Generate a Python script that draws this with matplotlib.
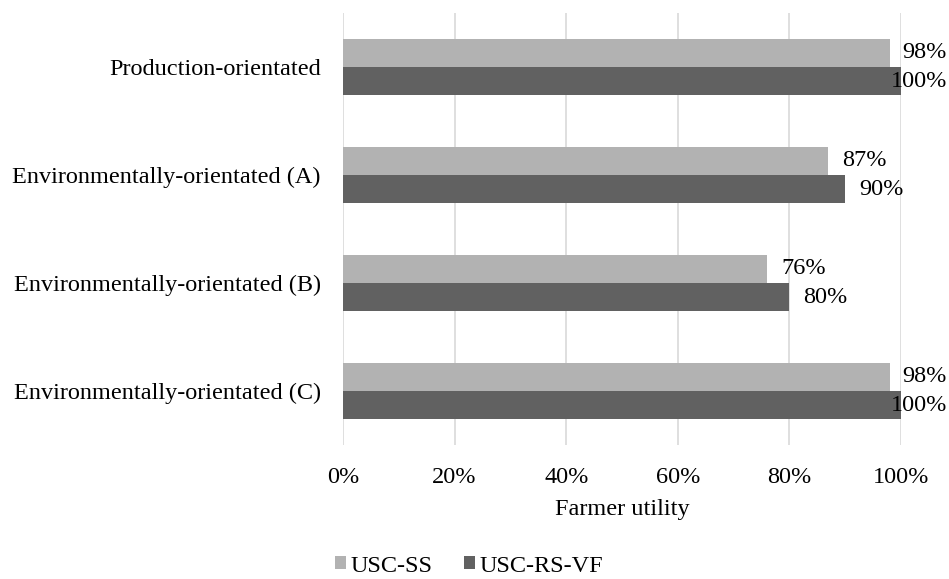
import matplotlib
matplotlib.use("Agg")
import matplotlib.pyplot as plt
import numpy as np

plt.rcParams['font.family'] = ['Liberation Serif', 'DejaVu Serif']

categories = [
    "Production-orientated",
    "Environmentally-orientated (A)",
    "Environmentally-orientated (B)",
    "Environmentally-orientated (C)",
]
series_names = ["USC-SS", "USC-RS-VF"]
usc_ss = [0.98, 0.87, 0.76, 0.98]
usc_rs_vf = [1.00, 0.90, 0.80, 1.00]
x_ticks = [0.0, 0.2, 0.4, 0.6, 0.8, 1.0]
x_tick_labels = ["0%", "20%", "40%", "60%", "80%", "100%"]

colors = ["#b2b2b2", "#616161"]
FS = 17.5

fig = plt.figure(figsize=(9.49, 5.79), dpi=100)
ax = fig.add_axes([343 / 949, 1 - 445 / 579, 558 / 949, 432 / 579])

n = len(categories)
pos = np.arange(n)
bar_h = 0.26

ax.barh(pos - bar_h / 2, usc_ss, height=bar_h, color=colors[0],
        label=series_names[0], zorder=3)
ax.barh(pos + bar_h / 2, usc_rs_vf, height=bar_h, color=colors[1],
        label=series_names[1], zorder=3)

ax.set_xlim(0, 1.0)
ax.set_ylim(n - 0.5, -0.5)
ax.set_xticks(x_ticks)
ax.set_xticklabels(x_tick_labels, fontsize=FS)
ax.set_yticks(pos)
ax.set_yticklabels(categories, fontsize=FS)
ax.tick_params(axis='both', length=0)
ax.tick_params(axis='x', pad=16)
ax.tick_params(axis='y', pad=16)
ax.grid(axis='x', color='#d9d9d9', linewidth=1.2, zorder=0)
for s in ax.spines.values():
    s.set_visible(False)
ax.set_xlabel("Farmer utility", fontsize=FS, labelpad=8)

# value labels beside each bar, kept inside the figure on the right
fig.canvas.draw()
renderer = fig.canvas.get_renderer()
right_limit = 947
for vals, offs in ((usc_ss, -bar_h / 2), (usc_rs_vf, bar_h / 2)):
    for i, v in enumerate(vals):
        t = ax.annotate(f"{v * 100:.0f}%", xy=(v, i + offs), xytext=(10, 0),
                        textcoords='offset points', ha='left', va='center',
                        fontsize=FS, zorder=4)
        bb = t.get_window_extent(renderer)
        if bb.x1 > right_limit:
            shift = (bb.x1 - right_limit) * 72 / fig.dpi
            t.set_position((10 - shift, 0))

fig.legend(*ax.get_legend_handles_labels(), loc='center',
           bbox_to_anchor=(469 / 949, 1 - 566 / 579), ncol=2,
           frameon=False, fontsize=FS, handlelength=0.45, handleheight=0.45,
           handletextpad=0.2, columnspacing=1.3, borderpad=0.0)

fig.savefig("out.png", dpi=100)
